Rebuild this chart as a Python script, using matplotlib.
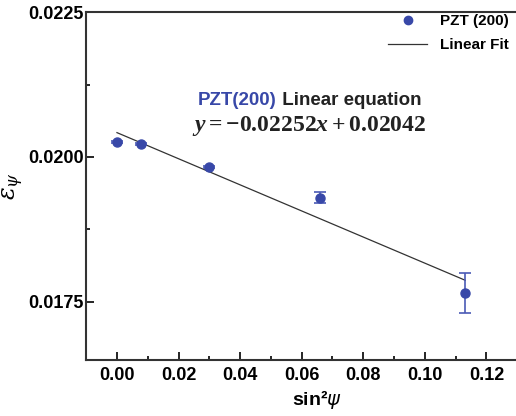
import matplotlib
matplotlib.use("Agg")
import matplotlib.pyplot as plt
from matplotlib.lines import Line2D
import numpy as np

# sin^2(psi) values and measured strains
sin2_psi = [0.0, 0.0078, 0.0298, 0.0658, 0.1131]
strain = [0.02026, 0.02022, 0.01983, 0.01930, 0.01765]
strain_err = [0.00002, 0.00002, 0.00002, 0.00010, 0.00034]

# linear fit from the paper
slope = -0.02252
intercept = 0.02042
fit_x = [0.0, 0.1131]

plt.rcParams['font.family'] = ['Liberation Sans', 'DejaVu Sans']
plt.rcParams['mathtext.fontset'] = 'custom'
plt.rcParams['mathtext.rm'] = 'Liberation Serif:weight=bold'
plt.rcParams['mathtext.it'] = 'Liberation Serif:style=italic:weight=bold'
plt.rcParams['mathtext.bf'] = 'Liberation Serif:weight=bold'

blue = '#3848a8'

fig = plt.figure(figsize=(5.16, 4.16), dpi=100)
# the original plot is cropped on the right, so the axes run past the figure edge
ax = fig.add_axes([0.167, 0.135, 0.895, 0.836])

fx = np.array(fit_x)
ax.plot(fx, slope * fx + intercept, color='#333333', lw=0.9, zorder=2)
ax.errorbar(sin2_psi, strain, yerr=strain_err, fmt='o', color=blue, ms=6.5,
            mec=blue, mfc=blue, ecolor='#4a5ab5', elinewidth=1.2, capsize=4.5,
            capthick=1.2, zorder=3)

ax.set_xlim(-0.01, 0.14)
ax.set_ylim(0.0165, 0.0225)
ax.set_xticks([0.0, 0.02, 0.04, 0.06, 0.08, 0.10, 0.12])
ax.set_yticks([0.0175, 0.0200, 0.0225])
ax.set_xticks(np.arange(-0.01, 0.14, 0.02), minor=True)
ax.set_yticks([0.01875, 0.02125], minor=True)
ax.xaxis.set_major_formatter(matplotlib.ticker.FormatStrFormatter('%.2f'))
ax.yaxis.set_major_formatter(matplotlib.ticker.FormatStrFormatter('%.4f'))
ax.tick_params(which='both', direction='in', labelsize=13, width=1.2)
ax.tick_params(which='major', length=6)
ax.tick_params(which='minor', length=3)
for lab in ax.get_xticklabels() + ax.get_yticklabels():
    lab.set_fontweight('bold')
ax.tick_params(axis='x', pad=5)
ax.tick_params(axis='y', pad=2)

for s in ['left', 'bottom', 'top']:
    ax.spines[s].set_linewidth(1.5)
    ax.spines[s].set_color('#333333')
ax.spines['right'].set_visible(False)

ax.set_xlabel('sin²$\\psi$', fontsize=14, fontweight='bold', labelpad=3,
              math_fontfamily='dejavusans')
ax.set_ylabel(r'$\varepsilon_{\psi}$', fontsize=17, labelpad=1, math_fontfamily='dejavuserif')

handles = [Line2D([], [], ls='none', marker='o', ms=6, color=blue),
           Line2D([], [], color='#333333', lw=0.9)]
ax.legend(handles, ['PZT (200)', 'Linear Fit'], loc='upper right', frameon=False,
          prop={'weight': 'bold', 'size': 11}, handlelength=2.6,
          bbox_to_anchor=(1.0, 0.984), bbox_transform=fig.transFigure,
          borderaxespad=0.1, labelspacing=0.65)

# annotation: title line and equation
t1 = ax.text(0.0263, 0.02097, 'PZT(200)', color=blue, fontsize=13.5, fontweight='bold',
             ha='left', va='center')
ax.annotate(' Linear equation', xycoords=t1, xy=(1, 0.5), va='center', ha='left',
            fontsize=13.5, fontweight='bold', color='#222222')
ax.text(0.0625, 0.02053, r'$y=-0.02252x+0.02042$', fontsize=17, ha='center', va='center',
        color='#222222')

fig.savefig('out.png', dpi=100)
